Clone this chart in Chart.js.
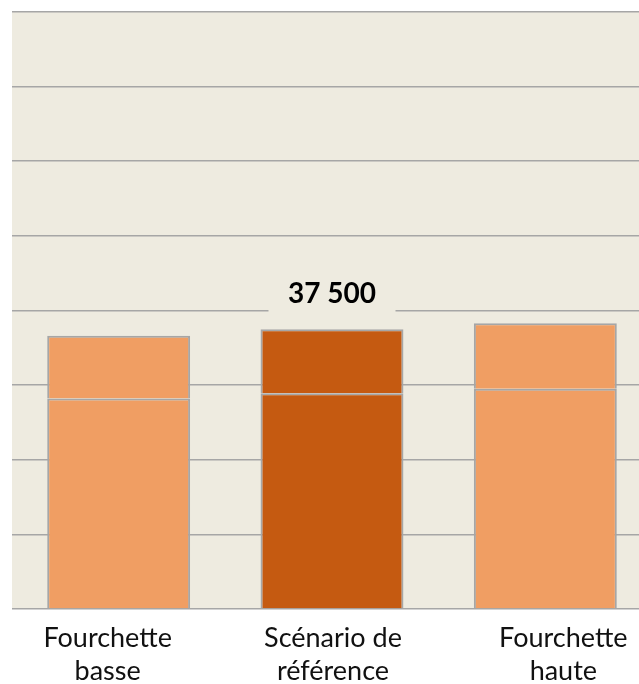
<!DOCTYPE html>
<html>
<head>
<meta charset="utf-8">
<script src="https://cdn.jsdelivr.net/npm/chart.js@4/dist/chart.umd.min.js"></script>
<style>
  html, body { margin: 0; padding: 0; overflow: hidden; background: #ffffff; }
  #wrap { position: absolute; left: 0; top: 0; }
</style>
</head>
<body>
<div id="wrap"><canvas id="c" width="652" height="684"></canvas></div>
<script>
// ---- data ----
const categories = [['Fourchette', 'basse'], ['Scénario de', 'référence'], ['Fourchette', 'haute']];
const lowerSegment = [28200, 28900, 29500];
const upperSegment = [8400, 8600, 8800];
const valueLabels = ['', '37 500', ''];
const yTicksMax = 80000;
const yTickStep = 10000;

// ---- styles ----
const LIGHT = '#F09E63';
const DARK = '#C55A11';
const barColors = [LIGHT, DARK, LIGHT];
const PLOT_BG = '#EEEBE0';
const GRID = '#A6A6A6';
const CAT_FONT = '27px Lato';
const CAT_SHIFT = [-11, 1, 18];      // horizontal nudge of category text (px)
const CAT_LINE1 = 37.5;              // baseline offset below plot bottom
const CAT_LINE_GAP = 33.5;

const bgPlugin = {
  id: 'plotBg',
  beforeDraw(chart) {
    const { ctx, chartArea } = chart;
    ctx.save();
    ctx.fillStyle = PLOT_BG;
    ctx.fillRect(chartArea.left, chartArea.top, chartArea.right - chartArea.left, chartArea.bottom - chartArea.top);
    ctx.restore();
  }
};

const catLabelPlugin = {
  id: 'catLabels',
  afterDraw(chart) {
    const { ctx, chartArea } = chart;
    const xs = chart.scales.x;
    ctx.save();
    ctx.font = CAT_FONT;
    ctx.fillStyle = '#111111';
    ctx.textAlign = 'center';
    ctx.textBaseline = 'alphabetic';
    categories.forEach((lines, i) => {
      const cx = xs.getPixelForValue(i) + CAT_SHIFT[i];
      lines.forEach((ln, j) => {
        ctx.fillText(ln, cx, chartArea.bottom + CAT_LINE1 + j * CAT_LINE_GAP);
      });
    });
    ctx.restore();
  }
};

const labelPlugin = {
  id: 'totalLabel',
  afterDatasetsDraw(chart) {
    const { ctx } = chart;
    const meta = chart.getDatasetMeta(1);
    valueLabels.forEach((txt, i) => {
      if (!txt) return;
      const bar = meta.data[i];
      const cx = bar.x;
      const top = bar.y;
      ctx.save();
      ctx.fillStyle = PLOT_BG;
      ctx.fillRect(cx - 63.5, top - 54, 127, 40);
      ctx.font = 'bold 28px Lato';
      ctx.fillStyle = '#000000';
      ctx.textAlign = 'center';
      ctx.textBaseline = 'middle';
      ctx.fillText(txt, cx, top - 35);
      ctx.restore();
    });
  }
};

new Chart(document.getElementById('c'), {
  type: 'bar',
  data: {
    labels: categories,
    datasets: [
      {
        data: lowerSegment,
        backgroundColor: barColors,
        borderColor: GRID,
        borderWidth: 2,
        categoryPercentage: 1,
        barPercentage: 0.67
      },
      {
        data: upperSegment,
        backgroundColor: barColors,
        borderColor: GRID,
        borderWidth: 2,
        categoryPercentage: 1,
        barPercentage: 0.67
      }
    ]
  },
  options: {
    responsive: false,
    animation: false,
    devicePixelRatio: 1,
    layout: { padding: { left: 12, top: 12, right: 0, bottom: 0 } },
    plugins: { legend: { display: false }, tooltip: { enabled: false } },
    scales: {
      x: {
        stacked: true,
        grid: { display: false, drawTicks: false },
        border: { display: false },
        ticks: { display: false },
        afterFit(scale) { scale.height = 75; }
      },
      y: {
        stacked: true,
        display: true,
        min: 0,
        max: yTicksMax,
        ticks: { display: false, stepSize: yTickStep },
        grid: { color: GRID, lineWidth: 1.6, drawTicks: false },
        border: { display: false },
        afterFit(scale) { scale.width = 0; }
      }
    }
  },
  plugins: [bgPlugin, labelPlugin, catLabelPlugin]
});
</script>
</body>
</html>
